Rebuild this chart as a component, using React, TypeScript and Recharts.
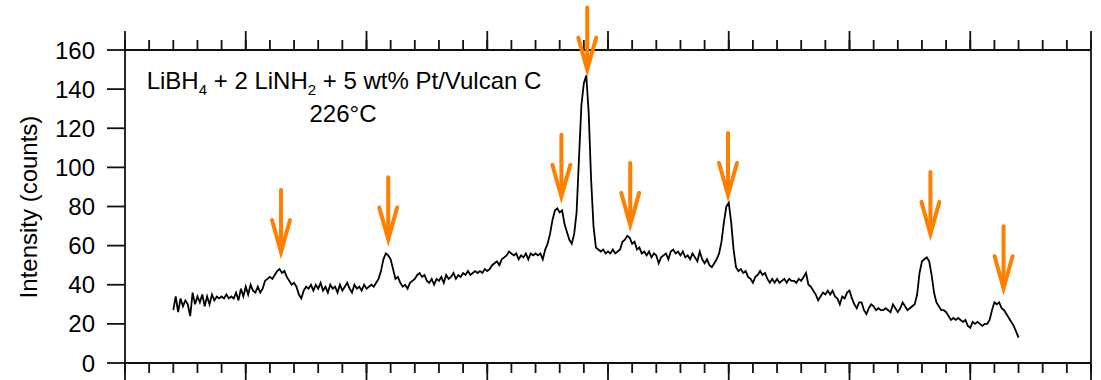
import React from "react";
import {
  ComposedChart,
  Line,
  Scatter,
  XAxis,
  YAxis,
  Customized,
} from "recharts";

// 2-theta scan, first point and step
const scanStart = 12.0;
const scanStep = 0.1;

// intensity (counts), one row per degree starting at 12.0
const counts = [
  27, 34, 26, 33, 29, 32, 30, 24, 36, 30,
  34, 31, 35, 29, 34, 30, 35, 32, 34, 33,
  34, 33, 35, 33, 34, 33, 36, 32, 38, 34,
  39, 35, 40, 37, 36, 39, 36, 38, 42, 43,
  44, 43, 45, 47, 48, 46, 47, 44, 42, 40,
  41, 39, 35, 33, 37, 39, 38, 40, 37, 40,
  38, 41, 37, 39, 36, 40, 38, 39, 36, 40,
  37, 39, 41, 38, 36, 40, 38, 39, 37, 40,
  38, 39, 40, 39, 41, 43, 47, 53, 56, 55,
  53, 48, 43, 44, 41, 39, 40, 38, 41, 42,
  43, 45, 46, 44, 45, 42, 41, 43, 40, 43,
  42, 44, 41, 45, 43, 44, 46, 43, 45, 44,
  46, 45, 47, 45, 46, 47, 46, 47, 46, 48,
  47, 48, 50, 51, 52, 50, 53, 54, 55, 57,
  56, 55, 56, 53, 55, 54, 56, 53, 56, 55,
  56, 55, 56, 53, 58, 61, 66, 73, 78, 79,
  77, 78, 71, 67, 63, 61, 66, 77, 105, 132,
  143, 147, 128, 94, 70, 59, 58, 57, 58, 56,
  57, 56, 58, 56, 57, 58, 62, 63, 65, 64,
  61, 62, 58, 59, 56, 57, 55, 57, 54, 56,
  55, 51, 54, 55, 56, 53, 57, 58, 56, 57,
  55, 57, 54, 55, 53, 56, 54, 52, 57, 53,
  51, 53, 50, 49, 51, 53, 56, 62, 72, 80,
  82, 72, 58, 49, 47, 48, 46, 47, 44, 43,
  41, 44, 45, 47, 45, 46, 43, 41, 43, 41,
  43, 41, 42, 43, 41, 43, 42, 42, 41, 43,
  42, 44, 46, 40, 39, 37, 35, 32, 34, 36,
  35, 37, 35, 37, 34, 33, 30, 34, 33, 36,
  37, 33, 30, 28, 31, 31, 27, 25, 28, 30,
  29, 27, 28, 27, 27, 28, 27, 26, 30, 28,
  26, 28, 31, 29, 27, 28, 29, 30, 35, 46,
  52, 53, 54, 52, 45, 36, 31, 29, 27, 27,
  26, 24, 22, 23, 22, 23, 22, 21, 22, 19,
  18, 21, 20, 21, 20, 19, 20, 20, 22, 27,
  31, 30, 31, 28, 27, 25, 23, 21, 19, 16,
  13,
];

// marked reflections: arrow position and tip height
const arrowAngles = [16.46, 20.9, 28.07, 29.14, 30.92, 34.97, 43.35, 46.38];
const arrowTips = [56.7, 63.2, 85, 150, 70.6, 85.9, 66, 38.2];

const majorTicks = [10, 15, 20, 25, 30, 35, 40, 45, 50];
const minorTicks = [
  10, 11, 12, 13, 14, 15, 16, 17, 18, 19, 20, 21, 22, 23, 24, 25, 26, 27, 28,
  29, 30, 31, 32, 33, 34, 35, 36, 37, 38, 39, 40, 41, 42, 43, 44, 45, 46, 47,
  48, 49, 50,
];
const yTicks = [0, 20, 40, 60, 80, 100, 120, 140, 160];

const scan = counts.map((c, i) => ({
  angle: +(scanStart + i * scanStep).toFixed(1),
  counts: c,
}));
const arrows = arrowAngles.map((a, i) => ({ angle: a, counts: arrowTips[i] }));

const FONT = '"Liberation Sans", Arial, Helvetica, sans-serif';
const ORANGE = "#ff8000";
const noLabel = () => "";

function ArrowMark(props: any) {
  const { cx, cy } = props;
  if (cx == null || cy == null) return null;
  return (
    <g stroke={ORANGE} strokeWidth={4} fill="none">
      <line x1={cx} y1={cy - 62} x2={cx} y2={cy - 3} strokeLinecap="round" />
      <polyline
        points={`${cx - 9},${cy - 32} ${cx},${cy} ${cx + 9},${cy - 32}`}
        strokeLinejoin="miter"
        strokeLinecap="round"
      />
    </g>
  );
}

function Annotations() {
  return (
    <g fontFamily={FONT} fill="#000">
      <text x={344} y={89} fontSize={24} textAnchor="middle">
        LiBH<tspan fontSize={15} dy={6}>4</tspan>
        <tspan dy={-6}> + 2 LiNH</tspan>
        <tspan fontSize={15} dy={6}>2</tspan>
        <tspan dy={-6}> + 5 wt% Pt/Vulcan C</tspan>
      </text>
      <text x={343} y={122} fontSize={24} textAnchor="middle">
        226°C
      </text>
      <text
        x={0}
        y={0}
        fontSize={24}
        textAnchor="middle"
        transform="translate(37,207) rotate(-90)"
      >
        Intensity (counts)
      </text>
    </g>
  );
}

export default function App() {
  const axisStroke = { stroke: "#111", strokeWidth: 1.8 };
  return (
    <div style={{ position: "absolute", left: 0, top: 0, background: "#fff" }}>
      <ComposedChart
        width={1101}
        height={380}
        data={scan}
        margin={{ top: 48, right: 9, bottom: 15, left: 0 }}
      >
        <XAxis
          xAxisId="x"
          dataKey="angle"
          type="number"
          domain={[10, 50]}
          ticks={majorTicks}
          tickFormatter={noLabel}
          tickSize={18}
          height={1}
          axisLine={axisStroke}
          tickLine={axisStroke}
        />
        <XAxis
          xAxisId="xm"
          dataKey="angle"
          type="number"
          domain={[10, 50]}
          ticks={minorTicks}
          tickFormatter={noLabel}
          tickSize={9}
          height={1}
          axisLine={false}
          tickLine={axisStroke}
        />
        <XAxis
          xAxisId="t"
          orientation="top"
          dataKey="angle"
          type="number"
          domain={[10, 50]}
          ticks={majorTicks}
          tickFormatter={noLabel}
          tickSize={19}
          height={1}
          axisLine={axisStroke}
          tickLine={axisStroke}
        />
        <XAxis
          xAxisId="tm"
          orientation="top"
          dataKey="angle"
          type="number"
          domain={[10, 50]}
          ticks={minorTicks}
          tickFormatter={noLabel}
          tickSize={9}
          height={1}
          axisLine={false}
          tickLine={axisStroke}
        />
        <YAxis
          yAxisId="y"
          type="number"
          domain={[0, 160]}
          ticks={yTicks}
          width={125}
          tickSize={18}
          tickMargin={12}
          axisLine={axisStroke}
          tickLine={axisStroke}
          tick={{ fill: "#000", fontSize: 24, fontFamily: FONT }}
        />
        <YAxis
          yAxisId="yr"
          orientation="right"
          type="number"
          domain={[0, 160]}
          ticks={yTicks}
          width={1}
          tickFormatter={noLabel}
          tickSize={10}
          axisLine={axisStroke}
          tickLine={axisStroke}
        />
        <Line
          xAxisId="x"
          yAxisId="y"
          dataKey="counts"
          stroke="#000"
          strokeWidth={1.8}
          dot={false}
          isAnimationActive={false}
        />
        <Scatter
          xAxisId="x"
          yAxisId="y"
          data={arrows}
          dataKey="counts"
          shape={(p: any) => <ArrowMark {...p} />}
          isAnimationActive={false}
        />
        <Customized component={Annotations} />
      </ComposedChart>
    </div>
  );
}
